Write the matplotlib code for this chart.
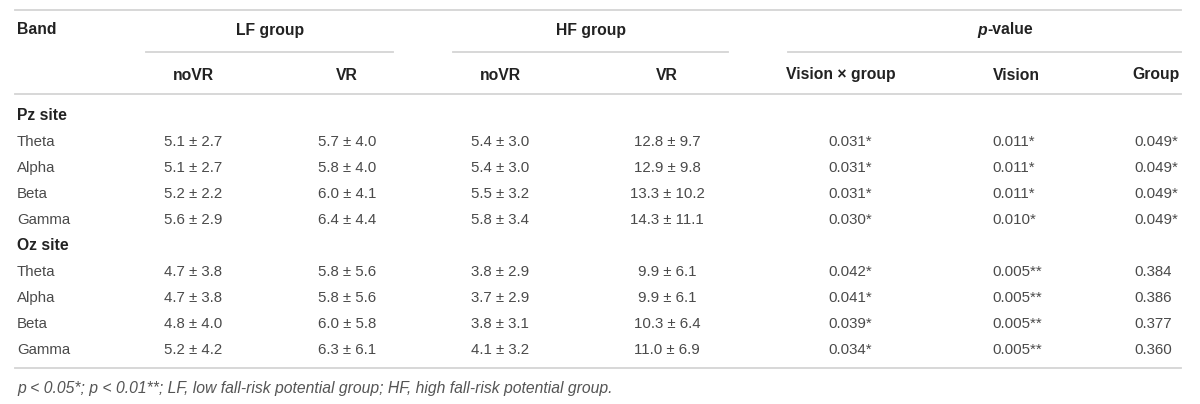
import matplotlib
matplotlib.use("Agg")
import matplotlib.pyplot as plt
from matplotlib.lines import Line2D

# ---------------- data ----------------
bands = ["Theta", "Alpha", "Beta", "Gamma"]
sites = ["Pz site", "Oz site"]
group_headers = ["LF group", "HF group"]
sub_headers = ["noVR", "VR", "noVR", "VR"]
p_headers = ["Vision \u00d7 group", "Vision", "Group"]

pz_lf_novr = [(5.1, 2.7), (5.1, 2.7), (5.2, 2.2), (5.6, 2.9)]
pz_lf_vr = [(5.7, 4.0), (5.8, 4.0), (6.0, 4.1), (6.4, 4.4)]
pz_hf_novr = [(5.4, 3.0), (5.4, 3.0), (5.5, 3.2), (5.8, 3.4)]
pz_hf_vr = [(12.8, 9.7), (12.9, 9.8), (13.3, 10.2), (14.3, 11.1)]
pz_p_inter = [0.031, 0.031, 0.031, 0.030]
pz_p_vision = [0.011, 0.011, 0.011, 0.010]
pz_p_group = [0.049, 0.049, 0.049, 0.049]

oz_lf_novr = [(4.7, 3.8), (4.7, 3.8), (4.8, 4.0), (5.2, 4.2)]
oz_lf_vr = [(5.8, 5.6), (5.8, 5.6), (6.0, 5.8), (6.3, 6.1)]
oz_hf_novr = [(3.8, 2.9), (3.7, 2.9), (3.8, 3.1), (4.1, 3.2)]
oz_hf_vr = [(9.9, 6.1), (9.9, 6.1), (10.3, 6.4), (11.0, 6.9)]
oz_p_inter = [0.042, 0.041, 0.039, 0.034]
oz_p_vision = [0.005, 0.005, 0.005, 0.005]
oz_p_group = [0.384, 0.386, 0.377, 0.360]

footnote = ("p < 0.05*; p < 0.01**; LF, low fall-risk potential group; "
            "HF, high fall-risk potential group.")

# ---------------- layout ----------------
W, H = 1200, 404
fig = plt.figure(figsize=(W / 100, H / 100), dpi=100)
fig.patch.set_facecolor("white")
FONT = ["Liberation Sans", "DejaVu Sans"]
DARK = "#222222"
BODY = "#4a4a4a"
RULE = "#d4d4d4"
FS_HEAD = 11.3
FS_BODY = 10.8


def fx(x):
    return x / W


def fy(y):
    return 1 - y / H


def txt(x, y, s, ha="left", bold=False, italic=False, color=None, size=None):
    return fig.text(fx(x), fy(y), s, ha=ha, va="center",
                    fontsize=size or (FS_HEAD if bold else FS_BODY),
                    fontweight="bold" if bold else "normal",
                    fontstyle="italic" if italic else "normal",
                    color=color or (DARK if bold else BODY), family=FONT)


def hrule(x0, x1, y, lw=1.3):
    fig.add_artist(Line2D([fx(x0), fx(x1)], [fy(y), fy(y)],
                          transform=fig.transFigure, color=RULE, lw=lw))


def fmt_p(p):
    stars = "**" if p < 0.01 else ("*" if p < 0.05 else "")
    return f"{p:.3f}{stars}"


LEFT, RIGHT = 15, 1181
hrule(LEFT, RIGHT, 10)
hrule(146, 393, 52)
hrule(453, 728, 52)
hrule(788, RIGHT, 52)
hrule(LEFT, RIGHT, 94)
hrule(LEFT, RIGHT, 368)

# header row 1
Y1, Y2 = 30, 75
txt(17, Y1, "Band", bold=True)
txt(270, Y1, group_headers[0], ha="center", bold=True)
txt(591, Y1, group_headers[1], ha="center", bold=True)
# p-value with italic p
renderer = fig.canvas.get_renderer()
tp = txt(0, Y1, "p", bold=True, italic=True)
tv = txt(0, Y1, "-value", bold=True)
wp = tp.get_window_extent(renderer).width
wv = tv.get_window_extent(renderer).width
pstart = 1005 - (wp + wv) / 2
tp.set_x(fx(pstart))
tv.set_x(fx(pstart + wp))

# header row 2
data_cx = [193, 347, 500, 667]
for cx, s in zip(data_cx, sub_headers):
    txt(cx, Y2, s, ha="center", bold=True)
txt(841, Y2, p_headers[0], ha="center", bold=True)
txt(993, Y2, p_headers[1], bold=True)
txt(1180, Y2, p_headers[2], ha="right", bold=True)

# body
site_y = [116, 246]
row_step = 26
site_cols = [
    (pz_lf_novr, pz_lf_vr, pz_hf_novr, pz_hf_vr, pz_p_inter, pz_p_vision, pz_p_group),
    (oz_lf_novr, oz_lf_vr, oz_hf_novr, oz_hf_vr, oz_p_inter, oz_p_vision, oz_p_group),
]
for sname, sy, cols in zip(sites, site_y, site_cols):
    txt(17, sy, sname, bold=True)
    msd_cols = cols[:4]
    p_inter, p_vis, p_grp = cols[4:]
    for i, band in enumerate(bands):
        y = sy + row_step * (i + 1)
        txt(17, y, band)
        for cx, col in zip(data_cx, msd_cols):
            m, sd = col[i]
            txt(cx, y, f"{m:.1f} \u00b1 {sd:.1f}", ha="center")
        txt(828, y, fmt_p(p_inter[i]))
        txt(992, y, fmt_p(p_vis[i]))
        txt(1134, y, fmt_p(p_grp[i]))

# footnote
txt(17, 388, footnote, italic=True, color="#555555", size=11.3)

fig.savefig("out.png", dpi=100, facecolor="white")
